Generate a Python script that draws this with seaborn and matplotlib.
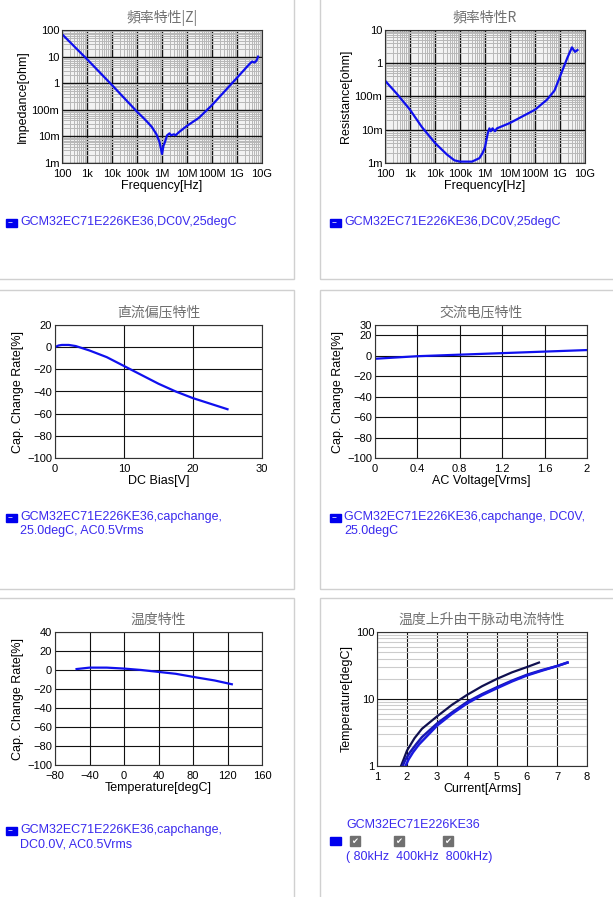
import matplotlib
matplotlib.use("Agg")
import matplotlib.pyplot as plt
import matplotlib.patches as mpatches
import matplotlib.ticker as mt
from matplotlib import font_manager
import seaborn as sns
import numpy as np

cjk = None
for name in ["Noto Sans CJK SC", "Noto Sans CJK JP", "Noto Sans CJK TC", "Noto Sans CJK KR"]:
    try:
        font_manager.findfont(font_manager.FontProperties(family=name), fallback_to_default=False)
        cjk = name
        break
    except Exception:
        pass
plt.rcParams["font.family"] = ["Liberation Sans"] + ([cjk] if cjk else [])

imp_f = [1e2,1e3,1e4,1e5,2e5,3e5,4e5,6e5,8e5,1e6,1.15e6,1.3e6,1.6e6,2e6,2.3e6,3e6,3.5e6,5e6,1e7,3e7,1e8,1e9,3e9,4e9,5e9,6e9,7e9]
imp_z = [70,8,0.85,0.085,0.045,0.03,0.022,0.012,0.006,0.0022,0.0045,0.006,0.011,0.013,0.011,0.012,0.011,0.015,0.025,0.05,0.15,1.6,5,6.5,6,7,10]
res_f = [1e2,3e2,1e3,3e3,1e4,3e4,6e4,1e5,3e5,6e5,8e5,1e6,1.3e6,1.5e6,1.7e6,2e6,2.5e6,3e6,1e7,1e8,3e8,6e8,1e9,2e9,3e9,4e9,5e9]
res_r = [0.3,0.12,0.04,0.012,0.004,0.0018,0.0012,0.0011,0.0011,0.0014,0.002,0.003,0.008,0.011,0.009,0.011,0.009,0.011,0.016,0.04,0.08,0.15,0.4,1.5,3,2.2,2.5]
dc_v = [0,0.5,1,2,3,4,5,7.5,10,12.5,15,17.5,20,22.5,25]
dc_c = [0,1.5,2,2,1,-1,-3,-9,-17,-25,-33,-40,-46,-51,-56]
ac_v = [0,0.4,0.8,1.2,1.6,2]
ac_c = [-3,-0.5,1,2.5,4,5.5]
tc_t = [-55,-40,-20,0,20,40,60,85,105,125]
tc_c = [1,2.5,2.5,1.5,0,-2,-4,-8,-11,-15]
cur_80k = ([1.8,1.9,2,2.25,2.5,3,3.5,4,4.5,5,5.5,6,6.4],[1,1.3,1.7,2.6,3.6,5.5,8.2,11.5,15.5,20,25,30,35])
cur_400k = ([1.85,1.95,2.1,2.3,2.5,3,3.5,4,4.5,5,5.5,6,6.5,7,7.35],[1,1.25,1.6,2.1,2.7,4.3,6.3,9,11.8,15,18.8,23,27,31,35])
cur_800k = ([1.95,2.05,2.2,2.4,2.6,3,3.5,4,4.5,5,5.5,6,6.5,7,7.35],[1,1.25,1.6,2.1,2.6,4,6,8.6,11.4,14.5,18.3,22.5,26.5,31,35])

W, H = 613, 897
fig = plt.figure(figsize=(W/100, H/100), dpi=100)
fig.patch.set_facecolor("white")

for (x0, y0, x1, y1) in [(-2,-2,294,279),(320,-2,615,279),(-2,290,294,589),(320,290,615,589),(-2,598,294,899),(320,598,615,899)]:
    fig.add_artist(mpatches.Rectangle((x0/W, 1-y1/H), (x1-x0)/W, (y1-y0)/H, transform=fig.transFigure,
                                      fill=False, ec="#d0d0d0", lw=1))

def ax_px(x0, y0, x1, y1):
    return fig.add_axes([x0/W, 1-y1/H, (x1-x0)/W, (y1-y0)/H])

BLUE = "#1010ee"
TXT = "#3a2aee"

def style(ax, title, xl, yl):
    ax.set_title(title, color="#707070", fontsize=10, pad=6, fontfamily=cjk or "DejaVu Sans")
    ax.set_xlabel(xl, fontsize=9, labelpad=1)
    ax.set_ylabel(yl, fontsize=9, labelpad=2)
    ax.tick_params(labelsize=8, length=0, pad=2)
    ax.tick_params(axis="x", pad=4)
    for s in ax.spines.values():
        s.set_color("#333333")

def legend(x, y, lines):
    fig.add_artist(mpatches.Rectangle((x/W, 1-(y+5)/H), 11/W, 8/H, transform=fig.transFigure, color="#0000ee"))
    fig.text((x+2)/W, 1-(y+1)/H, "−", color="white", fontsize=6, va="center")
    for i, l in enumerate(lines):
        fig.text((x+14)/W, 1-(y+i*14)/H, l, color=TXT, fontsize=9, va="center")

def logpanel(ax, x, y, ylim, yticks, ylabels):
    sns.lineplot(x=x, y=y, ax=ax, color=BLUE, lw=1.6)
    ax.set_xscale("log"); ax.set_yscale("log")
    ax.set_xlim(100, 1e10); ax.set_ylim(*ylim)
    ax.set_facecolor("#f2f2f2")
    ax.xaxis.set_minor_locator(mt.LogLocator(10, subs=np.arange(2, 10), numticks=20))
    ax.yaxis.set_minor_locator(mt.LogLocator(10, subs=np.arange(2, 10), numticks=20))
    ax.set_xticks([1e2,1e3,1e4,1e5,1e6,1e7,1e8,1e9,1e10])
    ax.set_xticklabels(["100","1k","10k","100k","1M","10M","100M","1G","10G"])
    ax.set_yticks(yticks); ax.set_yticklabels(ylabels)
    ax.grid(which="minor", color="#b8b8b8", lw=0.7)
    ax.grid(which="major", color="#111111", lw=1)
    ax.tick_params(which="minor", length=0)

ax1 = ax_px(62, 30, 262, 163)
logpanel(ax1, imp_f, imp_z, (1e-3, 100), [1e-3,1e-2,0.1,1,10,100], ["1m","10m","100m","1","10","100"])
style(ax1, "頻率特性|Z|", "Frequency[Hz]", "Impedance[ohm]")
legend(6, 222, ["GCM32EC71E226KE36,DC0V,25degC"])

ax2 = ax_px(385, 30, 585, 163)
logpanel(ax2, res_f, res_r, (1e-3, 10), [1e-3,1e-2,0.1,1,10], ["1m","10m","100m","1","10"])
style(ax2, "頻率特性R", "Frequency[Hz]", "Resistance[ohm]")
legend(330, 222, ["GCM32EC71E226KE36,DC0V,25degC"])

def linpanel(ax, x, y, xlim, xt, ylim, yt, xlabels=None):
    sns.lineplot(x=x, y=y, ax=ax, color=BLUE, lw=1.6)
    ax.set_xlim(*xlim); ax.set_ylim(*ylim)
    ax.set_xticks(xt); ax.set_yticks(yt)
    if xlabels: ax.set_xticklabels(xlabels)
    ax.grid(color="#111111", lw=0.8)

ax3 = ax_px(55, 325, 262, 458)
linpanel(ax3, dc_v, dc_c, (0, 30), [0,10,20,30], (-100, 20), list(range(-100, 21, 20)))
style(ax3, "直流偏压特性", "DC Bias[V]", "Cap. Change Rate[%]")
legend(6, 517, ["GCM32EC71E226KE36,capchange,", "25.0degC, AC0.5Vrms"])

ax4 = ax_px(375, 325, 587, 458)
linpanel(ax4, ac_v, ac_c, (0, 2), [0,0.4,0.8,1.2,1.6,2], (-100, 30), [-100,-80,-60,-40,-20,0,20,30],
         ["0","0.4","0.8","1.2","1.6","2"])
style(ax4, "交流电压特性", "AC Voltage[Vrms]", "Cap. Change Rate[%]")
legend(330, 517, ["GCM32EC71E226KE36,capchange, DC0V,", "25.0degC"])

ax5 = ax_px(55, 632, 262, 765)
linpanel(ax5, tc_t, tc_c, (-80, 160), list(range(-80, 161, 40)), (-100, 40), list(range(-100, 41, 20)))
style(ax5, "温度特性", "Temperature[degC]", "Cap. Change Rate[%]")
legend(6, 830, ["GCM32EC71E226KE36,capchange,", "DC0.0V, AC0.5Vrms"])

ax6 = ax_px(377, 632, 587, 766)
sns.lineplot(x=cur_80k[0], y=cur_80k[1], ax=ax6, color="#101050", lw=1.6)
sns.lineplot(x=cur_400k[0], y=cur_400k[1], ax=ax6, color="#1818b0", lw=1.8)
sns.lineplot(x=cur_800k[0], y=cur_800k[1], ax=ax6, color="#1a1ae0", lw=1.8)
ax6.set_yscale("log"); ax6.set_xlim(1, 8); ax6.set_ylim(1, 100)
ax6.set_xticks(range(1, 9))
ax6.set_yticks([1, 10, 100]); ax6.set_yticklabels(["1", "10", "100"])
ax6.yaxis.set_minor_locator(mt.LogLocator(10, subs=np.arange(2, 10), numticks=10))
ax6.grid(which="minor", axis="y", color="#cccccc", lw=0.8)
ax6.grid(which="major", color="#111111", lw=0.8)
ax6.tick_params(which="minor", length=0)
style(ax6, "温度上升由干脉动电流特性", "Current[Arms]", "Temperature[degC]")
fig.text(346/W, 1-825/H, "GCM32EC71E226KE36", color=TXT, fontsize=9, va="center")
fig.add_artist(mpatches.Rectangle((330/W, 1-(845)/H), 11/W, 8/H, transform=fig.transFigure, color="#0000ee"))
for xx in [350, 394, 443]:
    fig.add_artist(mpatches.Rectangle((xx/W, 1-846/H), 10/W, 10/H, transform=fig.transFigure, color="#707070"))
    fig.text((xx+1.5)/W, 1-841/H, "✔", color="white", fontsize=6, va="center", family="DejaVu Sans")
fig.text(346/W, 1-857/H, "( 80kHz  400kHz  800kHz)", color=TXT, fontsize=9, va="center")

fig.savefig("out.png", dpi=100)
